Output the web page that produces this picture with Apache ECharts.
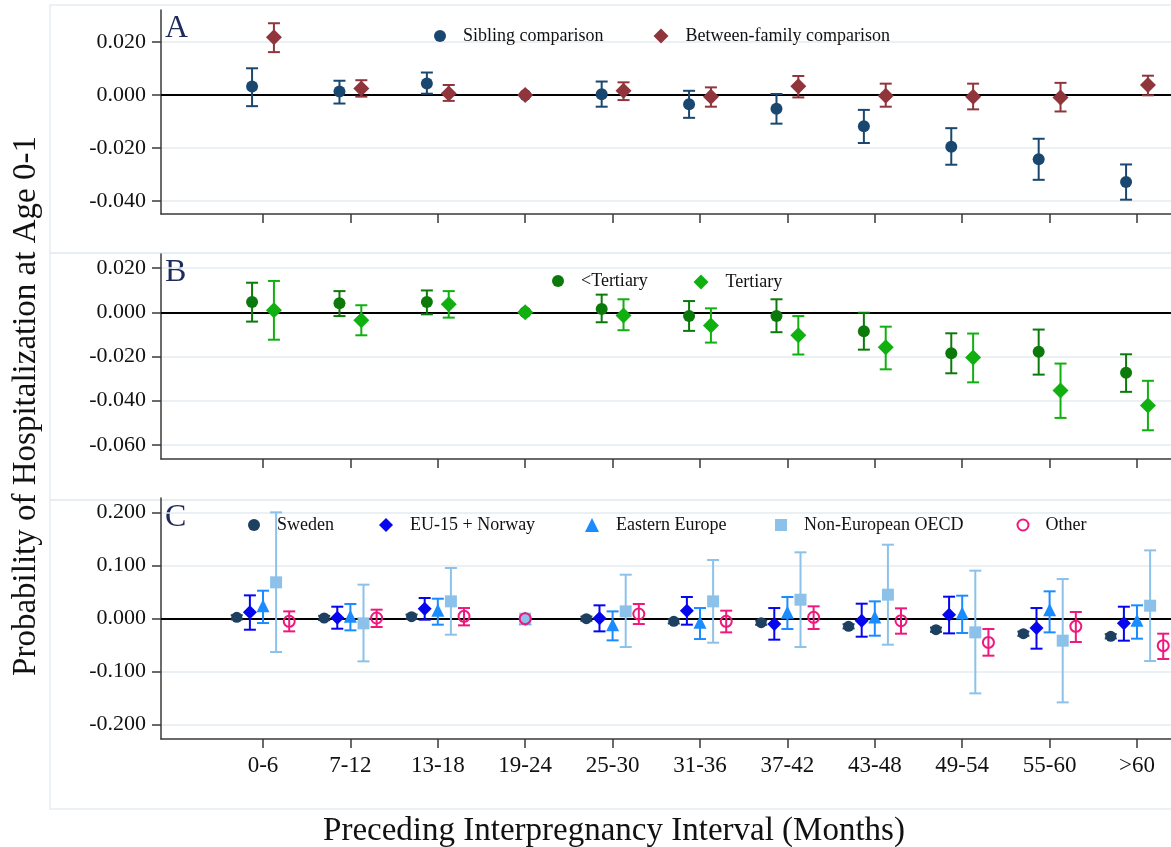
<!DOCTYPE html>
<html>
<head>
<meta charset="utf-8">
<script src="https://cdn.jsdelivr.net/npm/echarts@6/dist/echarts.min.js"></script>
<style>
  html, body { margin: 0; padding: 0; background: #fff; }
  #chart { width: 1171px; height: 847px; }
</style>
</head>
<body>
<div id="chart"></div>
<script>
const categories = ['0-6', '7-12', '13-18', '19-24', '25-30', '31-36', '37-42', '43-48', '49-54', '55-60', '>60']
const refIndex = 3 // 19-24 is the reference interval

// panel A
const siblingEst = [0.0032, 0.0013, 0.0044, 0, 0.0003, -0.0035, -0.0052, -0.0118, -0.0195, -0.0242, -0.0328]
const siblingLo = [-0.0042, -0.0032, 0.0005, null, -0.0044, -0.0086, -0.0108, -0.0181, -0.0263, -0.0320, -0.0395]
const siblingHi = [0.0101, 0.0054, 0.0085, null, 0.0051, 0.0016, 0.0004, -0.0056, -0.0125, -0.0165, -0.0262]
const betweenEst = [0.0218, 0.0025, 0.0006, 0, 0.0016, -0.0006, 0.0033, -0.0003, -0.0006, -0.0009, 0.0038]
const betweenLo = [0.0162, -0.0006, -0.0022, null, -0.0019, -0.0044, -0.0009, -0.0044, -0.0054, -0.0062, -0.0001]
const betweenHi = [0.0271, 0.0056, 0.0038, null, 0.0048, 0.0029, 0.0072, 0.0043, 0.0043, 0.0046, 0.0073]

// panel B
const lowEduEst = [0.0047, 0.0041, 0.0047, 0, 0.0015, -0.0017, -0.0017, -0.0086, -0.0185, -0.0179, -0.0274]
const lowEduLo = [-0.0042, -0.0017, -0.0009, null, -0.0045, -0.0084, -0.0090, -0.0169, -0.0276, -0.0282, -0.0360]
const lowEduHi = [0.0134, 0.0096, 0.0099, null, 0.0080, 0.0051, 0.0059, -0.0002, -0.0095, -0.0078, -0.0190]
const tertEst = [0.0009, -0.0036, 0.0036, 0, -0.0014, -0.0060, -0.0104, -0.0158, -0.0205, -0.0354, -0.0422]
const tertLo = [-0.0124, -0.0104, -0.0024, null, -0.0081, -0.0137, -0.0191, -0.0258, -0.0317, -0.0478, -0.0534]
const tertHi = [0.0142, 0.0032, 0.0096, null, 0.0059, 0.0018, -0.0017, -0.0065, -0.0096, -0.0232, -0.0310]

// panel C
const swedenEst = [0.0025, 0.0013, 0.0038, 0, 0.0000, -0.0050, -0.0075, -0.0145, -0.0208, -0.0283, -0.0333]
const swedenLo = [-0.0015, -0.0027, -0.0002, null, -0.0040, -0.0090, -0.0115, -0.0185, -0.0248, -0.0323, -0.0373]
const swedenHi = [0.0065, 0.0053, 0.0078, null, 0.0040, -0.0010, -0.0035, -0.0105, -0.0168, -0.0243, -0.0293]
const euEst = [0.0120, 0.0019, 0.0189, 0, 0.0006, 0.0151, -0.0101, -0.0038, 0.0075, -0.0176, -0.0088]
const euLo = [-0.0208, -0.0189, -0.0019, null, -0.0239, -0.0113, -0.0396, -0.0340, -0.0277, -0.0566, -0.0415]
const euHi = [0.0440, 0.0226, 0.0390, null, 0.0252, 0.0409, 0.0201, 0.0283, 0.0415, 0.0201, 0.0226]
const eastEst = [0.0245, 0.0044, 0.0157, 0, -0.0113, -0.0069, 0.0120, 0.0031, 0.0107, 0.0170, -0.0031]
const eastLo = [-0.0082, -0.0220, -0.0113, null, -0.0409, -0.0384, -0.0195, -0.0321, -0.0270, -0.0258, -0.0377]
const eastHi = [0.0528, 0.0277, 0.0377, null, 0.0138, 0.0201, 0.0409, 0.0327, 0.0434, 0.0516, 0.0252]
const oecdEst = [0.0686, -0.0088, 0.0327, 0, 0.0138, 0.0327, 0.0358, 0.0453, -0.0258, -0.0415, 0.0245]
const oecdLo = [-0.0629, -0.0805, -0.0302, null, -0.0535, -0.0453, -0.0535, -0.0491, -0.1409, -0.1579, -0.0799]
const oecdHi = [0.2006, 0.0642, 0.0956, null, 0.0830, 0.1107, 0.1252, 0.1396, 0.0906, 0.0748, 0.1289]
const otherEst = [-0.0050, 0.0013, 0.0044, 0, 0.0088, -0.0050, 0.0025, -0.0038, -0.0447, -0.0145, -0.0509]
const otherLo = [-0.0239, -0.0157, -0.0126, null, -0.0101, -0.0258, -0.0195, -0.0283, -0.0698, -0.0440, -0.0761]
const otherHi = [0.0138, 0.0170, 0.0201, null, 0.0277, 0.0151, 0.0233, 0.0195, -0.0195, 0.0126, -0.0283]

const yTicksA = [0.02, 0, -0.02, -0.04]
const yTicksB = [0.02, 0, -0.02, -0.04, -0.06]
const yTicksC = [0.2, 0.1, 0, -0.1, -0.2]

const FONT = 'Liberation Serif'
const AXIS = '#3a3a3a'
const GRIDLINE = '#e3ebf1'
const xTicks = categories.map((c, i) => i)

const chart = echarts.init(document.getElementById('chart'), null, { renderer: 'canvas' })

function pts(est, off) {
  return est.map((v, i) => [i + (i === refIndex ? 0 : off), v])
}
function cis(lo, hi, off) {
  return lo.map((v, i) => (v == null ? null : [i + off, v, hi[i]])).filter(Boolean)
}

function markers(name, gi, est, off, symbol, size, itemStyle, zeroLine) {
  const s = {
    name, type: 'scatter', xAxisIndex: gi, yAxisIndex: gi,
    data: pts(est, off), symbol, symbolSize: size, itemStyle: Object.assign({ opacity: 1 }, itemStyle),
    emphasis: { disabled: true }, z: 3
  }
  if (zeroLine) {
    s.markLine = {
      silent: true, symbol: 'none', z: 1, label: { show: false },
      lineStyle: { color: '#000', width: 2, type: 'solid' },
      data: [{ yAxis: 0 }]
    }
  }
  return s
}

function errBars(gi, lo, hi, off, color, width) {
  return {
    type: 'custom', xAxisIndex: gi, yAxisIndex: gi,
    data: cis(lo, hi, off), z: 2, silent: true,
    renderItem(params, api) {
      const a = api.coord([api.value(0), api.value(1)])
      const b = api.coord([api.value(0), api.value(2)])
      const st = { stroke: color, lineWidth: width || 2 }
      return {
        type: 'group',
        children: [
          { type: 'line', shape: { x1: a[0], y1: a[1], x2: b[0], y2: b[1] }, style: st },
          { type: 'line', shape: { x1: a[0] - 6, y1: a[1], x2: a[0] + 6, y2: a[1] }, style: st },
          { type: 'line', shape: { x1: b[0] - 6, y1: b[1], x2: b[0] + 6, y2: b[1] }, style: st }
        ]
      }
    }
  }
}

function xAxisFor(gi, showLabels) {
  return {
    type: 'value', gridIndex: gi, min: -1.167, max: 10.389,
    axisLine: { show: true, onZero: false, lineStyle: { color: AXIS, width: 1.5 } },
    axisTick: { show: true, length: 9, customValues: xTicks, lineStyle: { color: AXIS, width: 1.5 } },
    axisLabel: {
      show: showLabels, customValues: xTicks, margin: 15,
      formatter: v => categories[Math.round(v)],
      fontFamily: FONT, fontSize: 23, color: '#111'
    },
    splitLine: { show: false }
  }
}

function yAxisFor(gi, min, max, ticks) {
  return {
    type: 'value', gridIndex: gi, min, max,
    axisLine: { show: true, onZero: false, lineStyle: { color: AXIS, width: 1.5 } },
    axisTick: { show: true, length: 9, customValues: ticks, lineStyle: { color: AXIS, width: 1.5 } },
    axisLabel: {
      customValues: ticks, margin: 15, formatter: v => v.toFixed(3),
      fontFamily: FONT, fontSize: 22, color: '#111'
    },
    splitLine: { show: true, lineStyle: { color: GRIDLINE, width: 1.5 } }
  }
}

function legendItem(name, icon, size, cx, cy, itemStyle) {
  return {
    data: [{ name, icon, itemStyle: Object.assign({ opacity: 1 }, itemStyle) }],
    left: cx - size / 2, top: cy - 9, padding: 0,
    itemWidth: size, itemHeight: size, selectedMode: false,
    textStyle: { fontFamily: FONT, fontSize: 18, color: '#111', padding: [0, 0, 0, 12] }
  }
}

const C = {
  sib: '#1a476f', btw: '#90353b',
  low: '#0b7a0b', tert: '#10b010',
  swe: '#1d3f60', eu: '#0505ee', east: '#1a8cff', oecd: '#8cc2ea', other: '#f0187c'
}
const hollow = { color: 'rgba(0,0,0,0)', borderColor: C.other, borderWidth: 2 }

const panelBox = (y, h) => ({
  type: 'rect', shape: { x: 50, y, width: 1150, height: h }, silent: true, z: -10,
  style: { fill: 'none', stroke: '#e6edf2', lineWidth: 1.5 }
})
const panelLetter = (t, y) => ({
  type: 'text', x: 165, y, silent: true,
  style: { text: t, font: '32px "Liberation Serif"', fill: '#1f2b5c', textVerticalAlign: 'middle' }
})

chart.setOption({
  animation: false,
  grid: [
    { left: 161, right: 0, top: 10, height: 204 },
    { left: 161, right: 0, top: 254, height: 205 },
    { left: 161, right: 0, top: 498, height: 241 }
  ],
  xAxis: [xAxisFor(0, false), xAxisFor(1, false), xAxisFor(2, true)],
  yAxis: [
    yAxisFor(0, -0.0449, 0.0321, yTicksA),
    yAxisFor(1, -0.0664, 0.0264, yTicksB),
    yAxisFor(2, -0.227, 0.2277, yTicksC)
  ],
  legend: [
    legendItem('Sibling comparison', 'circle', 12, 440, 36),
    legendItem('Between-family comparison', 'diamond', 15, 661, 36),
    legendItem('<Tertiary', 'circle', 12, 558, 281),
    legendItem('Tertiary', 'diamond', 15, 701, 282),
    legendItem('Sweden', 'circle', 12, 254, 525),
    legendItem('EU-15 + Norway', 'diamond', 14, 386, 525),
    legendItem('Eastern Europe', 'triangle', 14, 592, 525),
    legendItem('Non-European OECD', 'rect', 12, 781, 525),
    legendItem('Other', 'circle', 11, 1022, 525, hollow)
  ],
  graphic: [
    panelBox(5, 248), panelBox(253, 247), panelBox(500, 309),
    panelLetter('A', 29), panelLetter('B', 273), panelLetter('C', 518),
    {
      type: 'text', x: 26, y: 406, rotation: Math.PI / 2, silent: true,
      style: {
        text: 'Probability of Hospitalization at Age 0-1', font: '33px "Liberation Serif"',
        fill: '#111', textAlign: 'center', textVerticalAlign: 'middle'
      }
    },
    {
      type: 'text', x: 614, y: 831, silent: true,
      style: {
        text: 'Preceding Interpregnancy Interval (Months)', font: '33px "Liberation Serif"',
        fill: '#111', textAlign: 'center', textVerticalAlign: 'middle'
      }
    }
  ],
  series: [
    errBars(0, siblingLo, siblingHi, -0.125, C.sib),
    markers('Sibling comparison', 0, siblingEst, -0.125, 'circle', 12, { color: C.sib }, true),
    errBars(0, betweenLo, betweenHi, 0.125, C.btw),
    markers('Between-family comparison', 0, betweenEst, 0.125, 'diamond', 16, { color: C.btw }),

    errBars(1, lowEduLo, lowEduHi, -0.125, C.low),
    markers('<Tertiary', 1, lowEduEst, -0.125, 'circle', 12, { color: C.low }, true),
    errBars(1, tertLo, tertHi, 0.125, C.tert),
    markers('Tertiary', 1, tertEst, 0.125, 'diamond', 16, { color: C.tert }),

    errBars(2, swedenLo, swedenHi, -0.3, C.swe),
    markers('Sweden', 2, swedenEst, -0.3, 'circle', 11, { color: C.swe }, true),
    errBars(2, euLo, euHi, -0.15, C.eu),
    markers('EU-15 + Norway', 2, euEst, -0.15, 'diamond', 14, { color: C.eu }),
    errBars(2, eastLo, eastHi, 0, C.east),
    markers('Eastern Europe', 2, eastEst, 0, 'triangle', 13, { color: C.east }),
    errBars(2, oecdLo, oecdHi, 0.15, C.oecd),
    markers('Non-European OECD', 2, oecdEst, 0.15, 'rect', 12, { color: C.oecd }),
    errBars(2, otherLo, otherHi, 0.3, C.other),
    markers('Other', 2, otherEst, 0.3, 'circle', 11, hollow)
  ]
})

window.addEventListener('resize', () => chart.resize())
</script>
</body>
</html>
